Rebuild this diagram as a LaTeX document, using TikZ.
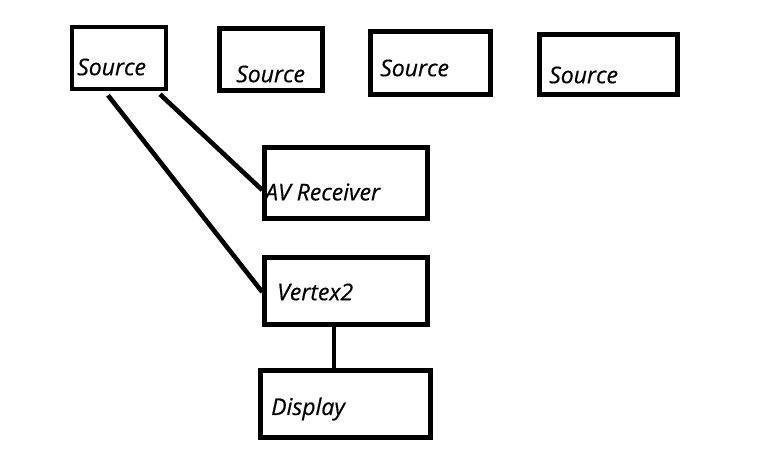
\documentclass[tikz,border=0pt]{standalone}
\usepackage{fontspec}
\setmainfont{Open Sans}[ItalicFeatures={FakeBold=0.5}]
\usetikzlibrary{calc}
\begin{document}
\begin{tikzpicture}[x=1pt,y=-1pt,
  box/.style={draw=black,line width=4.6pt,fill=none,inner sep=0pt,minimum width=#1},
  lbl/.style={anchor=west,inner sep=0pt,font=\fontsize{23}{25}\selectfont\itshape},
  wire/.style={line width=4.6pt,draw=black}]
\useasboundingbox[fill=white] (0,0) rectangle (779,460);
% boxes
\node[box=94pt,minimum height=62pt] (s1) at (119,58) {};
\node[box=103pt,minimum height=62pt] (s2) at (271,59.5) {};
\node[box=120pt,minimum height=63pt] (s3) at (430.5,63) {};
\node[box=138pt,minimum height=60pt] (s4) at (608.5,64.5) {};
\node[box=163pt,minimum height=71pt] (av) at (346,183) {};
\node[box=163pt,minimum height=67pt] (vx) at (346,291) {};
\node[box=170pt,minimum height=67pt] (dp) at (345.5,404) {};
% labels
\node[lbl] (t1) at (77,67) {Source};
\node[lbl] (t2) at (236,74) {Source};
\node[lbl] (t3) at (380,68) {Source};
\node[lbl] (t4) at (549,75) {Source};
\node[lbl] (t5) at (265,192) {AV Receiver};
\node[lbl] (t6) at (277,292) {Vertex2};
\node[lbl] (t7) at (271,409) {Display};
% connectors
\draw[wire] ($(s1.south)+(-11,4)$) -- ($(vx.west)+(0,1)$);
\draw[wire] ($(s1.south)+(41,3)$) -- ($(av.west)+(0,7)$);
\draw[wire] ($(vx.south)+(-12,0)$) -- ($(dp.north)+(-11.5,0)$);
\end{tikzpicture}
\end{document}
